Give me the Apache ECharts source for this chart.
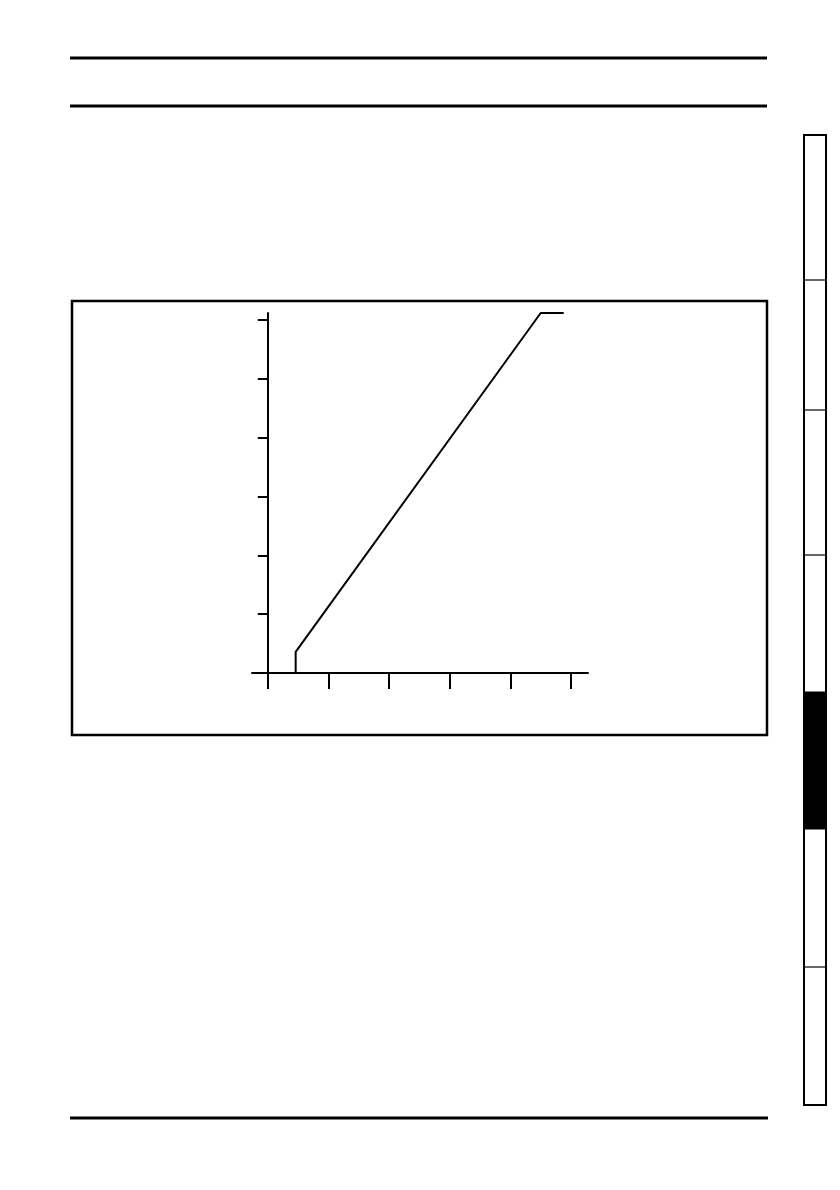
<!DOCTYPE html>
<html>
<head>
<meta charset="utf-8">
<script src="https://cdn.jsdelivr.net/npm/echarts@6/dist/echarts.min.js"></script>
<style>
html, body { margin: 0; padding: 0; background: #fff; }
#container { width: 840px; height: 1190px; }
</style>
</head>
<body>
<div id="container"></div>
<script>
// profile points (x, y in axis units)
var xValues = [0.46, 0.46, 4.50, 4.88];
var yValues = [0, 0.36, 6.12, 6.12];
var xTicks = [0, 1, 2, 3, 4, 5];
var yTicks = [1, 2, 3, 4, 5, 6];

var lineData = xValues.map(function (x, i) { return [x, yValues[i]]; });

var dom = document.getElementById("container");
var myChart = echarts.init(dom, null, { renderer: 'canvas' });

// page furniture: rules, frame and side tab
var furniture = [];
function hline(y, x1, x2, w) {
    furniture.push({ type: 'line', shape: { x1: x1, y1: y, x2: x2, y2: y },
        style: { stroke: '#000', lineWidth: w } });
}
hline(58, 70, 767, 3);
hline(106, 70, 767, 3);
hline(1118, 70, 768, 3);
furniture.push({ type: 'rect', shape: { x: 72, y: 301, width: 695, height: 434 },
    style: { fill: 'none', stroke: '#000', lineWidth: 2.5 } });
furniture.push({ type: 'rect', shape: { x: 804, y: 135, width: 22, height: 970 },
    style: { fill: '#fff', stroke: '#000', lineWidth: 2 } });
furniture.push({ type: 'rect', shape: { x: 804, y: 692, width: 22, height: 137 },
    style: { fill: '#000', stroke: '#000', lineWidth: 1 } });
[280, 410, 555, 967].forEach(function (y) {
    furniture.push({ type: 'line', shape: { x1: 804, y1: y, x2: 826, y2: y },
        style: { stroke: '#000', lineWidth: 1.2 } });
});

var option = {
    animation: false,
    backgroundColor: '#fff',
    grid: { left: 252, right: 252, top: 313, bottom: 517, containLabel: false },
    xAxis: {
        type: 'value',
        min: -0.26,
        max: 5.28,
        axisLine: { onZero: true, lineStyle: { color: '#000', width: 2 } },
        axisTick: { show: true, customValues: xTicks, length: 16, inside: false,
            lineStyle: { color: '#000', width: 2 } },
        axisLabel: { show: false },
        splitLine: { show: false }
    },
    yAxis: {
        type: 'value',
        min: 0,
        max: 6.12,
        axisLine: { show: true, onZero: true, lineStyle: { color: '#000', width: 2 } },
        axisTick: { show: true, customValues: yTicks, length: 10, inside: false,
            lineStyle: { color: '#000', width: 2 } },
        axisLabel: { show: false },
        splitLine: { show: false }
    },
    graphic: furniture,
    series: [{
        type: 'line',
        data: lineData,
        symbol: 'none',
        lineStyle: { color: '#000', width: 2 }
    }]
};
myChart.setOption(option, true);
</script>
</body>
</html>
